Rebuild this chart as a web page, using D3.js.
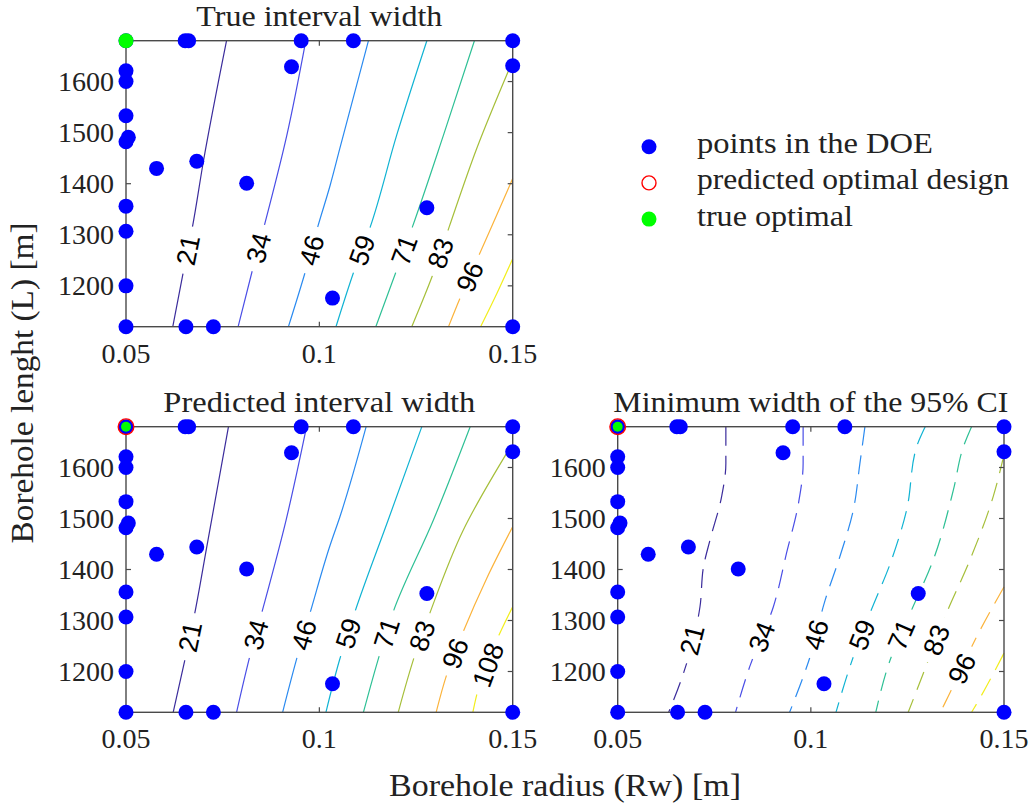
<!DOCTYPE html>
<html>
<head>
<meta charset="utf-8">
<script src="https://cdn.jsdelivr.net/npm/d3@7"></script>
<style>
  body { margin: 0; background: #fff; }
  text { font-family: "Liberation Serif", serif; fill: #222; }
  .clab { font-family: "Liberation Sans", Arial, sans-serif; fill: #000; }
</style>
</head>
<body>
<svg id="chart" width="1032" height="808"></svg>
<script>
// contour levels, same for the three panels
const levels = [21, 34, 46, 59, 71, 83, 96, 108];

// points in the DOE (Rw, L)
const doeRw = [0.05, 0.0653, 0.0662, 0.0953, 0.1088, 0.15, 0.0928, 0.15, 0.05, 0.05, 0.05, 0.0506, 0.05,
  0.0579, 0.0683, 0.0812, 0.05, 0.1278, 0.05, 0.05, 0.1034, 0.05, 0.0655, 0.0726, 0.15];
const doeL = [1680, 1680, 1680, 1680, 1680, 1680, 1629, 1631, 1621, 1600, 1533, 1491, 1482,
  1430, 1444, 1401, 1356, 1353, 1307, 1200, 1176, 1120, 1120, 1120, 1120];

const trueOpt = [0.05, 1680];
const predOpt = [0.05, 1680];

// contour lines, one list of [Rw, L] per level
const trueLines = [
  [[0.0760, 1680], [0.0700, 1443], [0.0672, 1316], [0.0650, 1234], [0.0621, 1120]],
  [[0.0965, 1680], [0.0916, 1495], [0.0857, 1316], [0.0828, 1234], [0.0790, 1120]],
  [[0.1127, 1680], [0.1053, 1469], [0.1028, 1397], [0.0996, 1316], [0.0965, 1231], [0.0920, 1120]],
  [[0.1278, 1680], [0.1200, 1495], [0.1131, 1314], [0.1092, 1234], [0.1043, 1120]],
  [[0.1401, 1680], [0.1321, 1495], [0.1240, 1314], [0.1200, 1231], [0.1146, 1120]],
  [[0.1494, 1630], [0.1407, 1469], [0.1336, 1316], [0.1295, 1225], [0.1239, 1120]],
  [[0.15, 1410], [0.1459, 1339], [0.1411, 1257], [0.1364, 1176], [0.1334, 1120]],
  [[0.15, 1253], [0.1459, 1185], [0.1417, 1120]]
];
const trueLabelL = [1270, 1274, 1270, 1270, 1270, 1264, 1218, null];

const predLines = [
  [[0.0765, 1680], [0.0709, 1445], [0.0678, 1315], [0.0655, 1232], [0.0622, 1120]],
  [[0.0967, 1680], [0.0914, 1497], [0.0851, 1315], [0.0821, 1232], [0.0786, 1120]],
  [[0.1121, 1680], [0.1053, 1503], [0.1028, 1448], [0.0976, 1315], [0.0944, 1232], [0.0905, 1120]],
  [[0.1265, 1680], [0.1178, 1497], [0.1092, 1317], [0.1052, 1222], [0.1017, 1120]],
  [[0.1390, 1680], [0.1295, 1497], [0.1191, 1317], [0.1157, 1236], [0.1114, 1120]],
  [[0.1494, 1640], [0.1372, 1477], [0.1286, 1315], [0.1247, 1232], [0.1204, 1120]],
  [[0.15, 1484], [0.1433, 1383], [0.1372, 1278], [0.1329, 1193], [0.1302, 1120]],
  [[0.15, 1327], [0.1459, 1262], [0.1407, 1154], [0.1397, 1120]]
];
const predLabelL = [1268, 1272, 1272, 1275, 1275, 1270, 1236, 1213];

const minLines = [
  [[0.0780, 1680], [0.0780, 1608], [0.0769, 1543], [0.0739, 1458], [0.0722, 1405], [0.0713, 1327], [0.0670, 1196], [0.0632, 1120]],
  [[0.0980, 1680], [0.0980, 1608], [0.0968, 1530], [0.0937, 1432], [0.0903, 1327], [0.0842, 1210], [0.0805, 1120]],
  [[0.1140, 1680], [0.1127, 1608], [0.1110, 1517], [0.1075, 1425], [0.1037, 1340], [0.0998, 1229], [0.0945, 1120]],
  [[0.1296, 1680], [0.1274, 1641], [0.1248, 1517], [0.1209, 1419], [0.1153, 1314], [0.1110, 1229], [0.1065, 1120]],
  [[0.1416, 1680], [0.1395, 1641], [0.1369, 1556], [0.1317, 1419], [0.1257, 1314], [0.1205, 1222], [0.1168, 1120]],
  [[0.15, 1625], [0.1472, 1543], [0.1412, 1419], [0.1347, 1307], [0.1291, 1196], [0.1252, 1120]],
  [[0.15, 1366], [0.1438, 1281], [0.1347, 1138], [0.1335, 1120]],
  [[0.15, 1236], [0.1420, 1125], [0.1416, 1120]]
];
const minLabelL = [1262, 1268, 1272, 1272, 1272, 1262, 1206, null];

const xTicks = [0.05, 0.1, 0.15];
const yTicks = [1200, 1300, 1400, 1500, 1600];

// parula-like colours, one per level
const levelColors = ["#3b2c9c", "#4a4ee6", "#2a8af0", "#10b3d3", "#2ec095", "#a6bf3a", "#fbb33b", "#f2ee1c"];

const svg = d3.select("#chart");
svg.append("rect").attr("width", 1032).attr("height", 808).attr("fill", "#fff");

const panels = [
  { x0: 126, x1: 512.7, y0: 40.7, y1: 326.7, title: "True interval width", titleW: 246,
    lines: trueLines, labelL: trueLabelL, dashed: false, pred: false },
  { x0: 126, x1: 512.7, y0: 426.7, y1: 712.3, title: "Predicted interval width", titleW: 312,
    lines: predLines, labelL: predLabelL, dashed: false, pred: true },
  { x0: 617.7, x1: 1004, y0: 426.7, y1: 712.3, title: "Minimum width of the 95% CI", titleW: 395,
    lines: minLines, labelL: minLabelL, dashed: true, pred: true }
];

const color = d3.scaleOrdinal().domain(levels).range(levelColors);

panels.forEach(p => {
  const x = d3.scaleLinear().domain([0.05, 0.15]).range([p.x0, p.x1]);
  const y = d3.scaleLinear().domain([1120, 1680]).range([p.y1, p.y0]);
  const g = svg.append("g");
  const line = d3.line().x(d => x(d[0])).y(d => y(d[1])).curve(d3.curveMonotoneY);

  // contour lines
  g.selectAll(".cl")
    .data(p.lines)
    .enter().append("path")
    .attr("d", line)
    .attr("fill", "none")
    .attr("stroke", (d, i) => color(levels[i]))
    .attr("stroke-width", 1.2)
    .attr("stroke-dasharray", p.dashed ? "19,10" : null);

  // inline labels with a gap in the line
  p.lines.forEach((pts, i) => {
    if (p.labelL[i] == null) return;
    const py = y(p.labelL[i]);
    const pix = pts.map(d => [x(d[0]), y(d[1])]);
    let k = 0;
    while (k < pix.length - 2 && pix[k + 1][1] < py) k++;
    const a = pix[k], b = pix[k + 1];
    const t = (py - a[1]) / (b[1] - a[1]);
    const px = a[0] + t * (b[0] - a[0]);
    const ang = Math.atan2(a[1] - b[1], a[0] - b[0]) * 180 / Math.PI;
    const txt = String(levels[i]);
    const len = txt.length * 15;
    const lg = g.append("g").attr("transform", `translate(${px},${py}) rotate(${ang})`);
    lg.append("rect")
      .attr("x", -len / 2 - 9).attr("y", -11)
      .attr("width", len + 18).attr("height", 22)
      .attr("fill", "#fff");
    lg.append("text")
      .attr("class", "clab")
      .attr("text-anchor", "middle")
      .attr("dy", "0.36em")
      .style("font-size", "27px")
      .text(txt);
  });

  // box
  g.append("rect")
    .attr("x", p.x0).attr("y", p.y0)
    .attr("width", p.x1 - p.x0).attr("height", p.y1 - p.y0)
    .attr("fill", "none").attr("stroke", "#4a4a4a").attr("stroke-width", 1.4);

  // inward ticks on all four sides
  xTicks.forEach(v => {
    g.append("line").attr("x1", x(v)).attr("x2", x(v)).attr("y1", p.y1).attr("y2", p.y1 - 5)
      .attr("stroke", "#4a4a4a").attr("stroke-width", 1.2);
    g.append("line").attr("x1", x(v)).attr("x2", x(v)).attr("y1", p.y0).attr("y2", p.y0 + 5)
      .attr("stroke", "#4a4a4a").attr("stroke-width", 1.2);
    g.append("text").attr("x", x(v)).attr("y", p.y1 + 36)
      .attr("text-anchor", "middle").style("font-size", "28px")
      .text(v === 0.1 ? "0.1" : v.toFixed(2));
  });
  yTicks.forEach(v => {
    g.append("line").attr("x1", p.x0).attr("x2", p.x0 + 5).attr("y1", y(v)).attr("y2", y(v))
      .attr("stroke", "#4a4a4a").attr("stroke-width", 1.2);
    g.append("line").attr("x1", p.x1).attr("x2", p.x1 - 5).attr("y1", y(v)).attr("y2", y(v))
      .attr("stroke", "#4a4a4a").attr("stroke-width", 1.2);
    g.append("text").attr("x", p.x0 - 12).attr("y", y(v) + 9.5)
      .attr("text-anchor", "end").style("font-size", "28px")
      .text(v);
  });

  // DOE points
  g.selectAll(".doe")
    .data(doeRw.map((r, i) => [r, doeL[i]]))
    .enter().append("circle")
    .attr("cx", d => x(d[0])).attr("cy", d => y(d[1]))
    .attr("r", 7.5).attr("fill", "#0000ff");

  // true optimal and predicted optimal
  g.append("circle")
    .attr("cx", x(trueOpt[0])).attr("cy", y(trueOpt[1]))
    .attr("r", p.pred ? 5 : 7.5).attr("fill", "#00ff00");
  if (p.pred) {
    g.append("circle")
      .attr("cx", x(predOpt[0])).attr("cy", y(predOpt[1]))
      .attr("r", 7.8).attr("fill", "none").attr("stroke", "#ff0000").attr("stroke-width", 1.4);
  }

  // title
  g.append("text")
    .attr("x", (p.x0 + p.x1) / 2).attr("y", p.y0 - 15)
    .attr("text-anchor", "middle").style("font-size", "30px")
    .attr("textLength", p.titleW).attr("lengthAdjust", "spacingAndGlyphs")
    .text(p.title);
});

// axis labels
svg.append("text")
  .attr("x", 565).attr("y", 796)
  .attr("text-anchor", "middle").style("font-size", "31px")
  .attr("textLength", 352).attr("lengthAdjust", "spacingAndGlyphs")
  .text("Borehole radius (Rw) [m]");

svg.append("text")
  .attr("transform", "translate(33,383) rotate(-90)")
  .attr("text-anchor", "middle").style("font-size", "31px")
  .attr("textLength", 321).attr("lengthAdjust", "spacingAndGlyphs")
  .text("Borehole lenght (L) [m]");

// legend
const legendItems = ["points in the DOE", "predicted optimal design", "true optimal"];
const legendW = [236, 312, 156];
const leg = svg.append("g");
legendItems.forEach((name, i) => {
  const cy = 146.7 + i * 36.2;
  if (i === 1) {
    leg.append("circle").attr("cx", 649).attr("cy", cy).attr("r", 7)
      .attr("fill", "none").attr("stroke", "#ff0000").attr("stroke-width", 1.4);
  } else {
    leg.append("circle").attr("cx", 649).attr("cy", cy).attr("r", 7.5)
      .attr("fill", i === 0 ? "#0000ff" : "#00ff00");
  }
  leg.append("text")
    .attr("x", 697).attr("y", cy + 6.5)
    .style("font-size", "29px")
    .attr("textLength", legendW[i]).attr("lengthAdjust", "spacingAndGlyphs")
    .text(name);
});
</script>
</body>
</html>
